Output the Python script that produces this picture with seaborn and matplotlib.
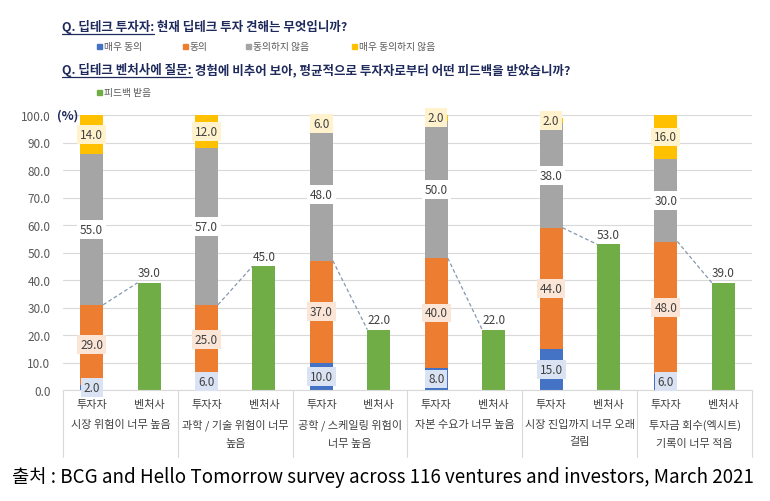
import numpy as np
import pandas as pd
import matplotlib
matplotlib.use("Agg")
import matplotlib.pyplot as plt
import seaborn as sns
from matplotlib.transforms import blended_transform_factory

# ---------------- data ----------------
categories = ["시장 위험이 너무 높음", "과학 / 기술 위험이 너무\n높음", "공학 / 스케일링 위험이\n너무 높음",
              "자본 수요가 너무 높음", "시장 진입까지 너무 오래\n걸림", "투자금 회수(엑시트)\n기록이 너무 적음"]
strongly_agree = [2, 6, 10, 8, 15, 6]
agree = [29, 25, 37, 40, 44, 48]
disagree = [55, 57, 48, 50, 38, 30]
strongly_disagree = [14, 12, 6, 2, 2, 16]
feedback = [39, 45, 22, 22, 53, 39]
sub_labels = ["투자자", "벤처사"]
investor_series = ["매우 동의", "동의", "동의하지 않음", "매우 동의하지 않음"]
venture_series = "피드백 받음"
yticks = [0, 10, 20, 30, 40, 50, 60, 70, 80, 90, 100]
title1_head = "Q. 딥테크 투자자:"
title1_tail = " 현재 딥테크 투자 견해는 무엇입니까?"
title2_head = "Q. 딥테크 벤처사에 질문:"
title2_tail = " 경험에 비추어 보아, 평균적으로 투자자로부터 어떤 피드백을 받았습니까?"
source = "출처 : BCG and Hello Tomorrow survey across 116 ventures and investors, March 2021"

inv_colors = ["#4472C4", "#ED7D31", "#A5A5A5", "#FFC000"]
inv_box = ["#DAE3F3", "#FBE5D6", "#FFFFFF", "#FFF2CC"]
green = "#70AD47"
txt = "#404040"
navy = "#1F2A5C"

sns.set_theme(style="white")
plt.rcParams['font.family'] = ['Noto Sans CJK KR', 'DejaVu Sans']

# long table
slots = []
for i in range(len(categories)):
    slots += [f"{i}-inv", f"{i}-ven"]
series_vals = [strongly_agree, agree, disagree, strongly_disagree]
rows = []
for i in range(len(categories)):
    bottom = 0
    for s, vals in zip(investor_series, series_vals):
        rows.append(dict(slot=f"{i}-inv", series=s, value=vals[i], bottom=bottom, top=bottom + vals[i]))
        bottom += vals[i]
    rows.append(dict(slot=f"{i}-ven", series=venture_series, value=feedback[i], bottom=0, top=feedback[i]))
df = pd.DataFrame(rows)

fig = plt.figure(figsize=(7.7, 5.02), dpi=100)
ax = fig.add_axes([63 / 770, 1 - 391 / 502, (752 - 63) / 770, 275 / 502])

bw = 0.4
# stacked investor bars (draw cumulative tops from highest layer down)
for s, c in reversed(list(zip(investor_series, inv_colors))):
    sub = df[df.series == s]
    sns.barplot(data=sub, x="slot", y="top", order=slots, color=c, width=bw,
                saturation=1, errorbar=None, linewidth=0, ax=ax)
sub = df[df.series == venture_series]
sns.barplot(data=sub, x="slot", y="top", order=slots, color=green, width=bw,
            saturation=1, errorbar=None, linewidth=0, ax=ax)

ax.set_xlim(-0.5, len(slots) - 0.5)
ax.set_ylim(0, 100)
ax.set_yticks(yticks)
ax.set_yticklabels([f"{v:.1f}" for v in yticks], color="#595959", fontsize=8.5)
ax.tick_params(axis="y", length=0, pad=9)
ax.set_xticks([])
ax.set_xlabel("")
ax.set_ylabel("")
ax.grid(axis="y", color="#D9D9D9", linewidth=0.8)
ax.set_axisbelow(True)
for sp in ["left", "right", "top"]:
    ax.spines[sp].set_visible(False)
ax.spines["bottom"].set_color("#D9D9D9")
ax.spines["bottom"].set_linewidth(0.8)

# segment labels
for _, r in df.iterrows():
    xi = slots.index(r.slot)
    if r.series == venture_series:
        ax.text(xi, r.top + 1.2, f"{r.value:.1f}", ha="center", va="bottom", color=txt, fontsize=8.5)
    else:
        k = investor_series.index(r.series)
        yc = min(r.bottom + r.value / 2, 100 - r.value / 2 if r.top > 100 else 1e9)
        ax.text(xi, yc, f"{r.value:.1f}", ha="center", va="center", color=txt, fontsize=8.5,
                bbox=dict(boxstyle="square,pad=0.25", fc=inv_box[k], ec="none"), zorder=5)

# series lines (dashed) from top of 'agree' to top of feedback
for i in range(len(categories)):
    y0 = strongly_agree[i] + agree[i]
    ax.plot([2 * i + bw / 2, 2 * i + 1 - bw / 2], [y0, feedback[i]], ls=(0, (3, 2)),
            color="#8497B0", lw=0.9, zorder=4)

# category axis (multi-level)
trans = blended_transform_factory(ax.transData, ax.transAxes)
for j in range(len(categories) + 1):
    ax.plot([2 * j - 0.5] * 2, [0, -0.245], transform=trans, color="#D9D9D9", lw=0.8, clip_on=False)
for i, cat in enumerate(categories):
    ax.text(2 * i, -0.052, sub_labels[0], transform=trans, ha="center", va="center", color=txt, fontsize=8)
    ax.text(2 * i + 1, -0.052, sub_labels[1], transform=trans, ha="center", va="center", color=txt, fontsize=8)
    ax.text(2 * i + 0.5, -0.105, cat, transform=trans, ha="center", va="top", color=txt, fontsize=8,
            linespacing=1.95)

# (%) marker
fig.text(57 / 770, 1 - 116 / 502, "(%)", color=navy, fontsize=9, fontweight="bold", va="center", ha="left")

# titles with underlined head
def title(y_px, head, tail):
    t1 = fig.text(62 / 770, 1 - y_px / 502, head, color=navy, fontsize=9, fontweight="bold", va="center")
    fig.canvas.draw()
    bb = t1.get_window_extent()
    fig.text(bb.x1 / 770, 1 - y_px / 502, tail, color=navy, fontsize=9, fontweight="bold", va="center")
    yline = (bb.y0 - 1) / 502
    fig.add_artist(plt.Line2D([bb.x0 / 770, bb.x1 / 770], [yline, yline], color=navy, lw=0.9))

title(27, title1_head, title1_tail)
title(70, title2_head, title2_tail)

# legends
def leg(x_px, y_px, color, label):
    fig.patches.append(plt.Rectangle((x_px / 770, 1 - (y_px + 3) / 502), 5 / 770, 5 / 502,
                                     transform=fig.transFigure, color=color, figure=fig))
    fig.text((x_px + 7) / 770, 1 - y_px / 502, label, color="#595959", fontsize=7, va="center")

for xp, c, lab in zip([97, 183, 246, 352], inv_colors, investor_series):
    leg(xp, 47, c, lab)
leg(97, 93, green, venture_series)

fig.text(12 / 770, 1 - 478 / 502, source, color="black", fontsize=13.5, va="center", ha="left")

fig.savefig("out.png", dpi=100)
